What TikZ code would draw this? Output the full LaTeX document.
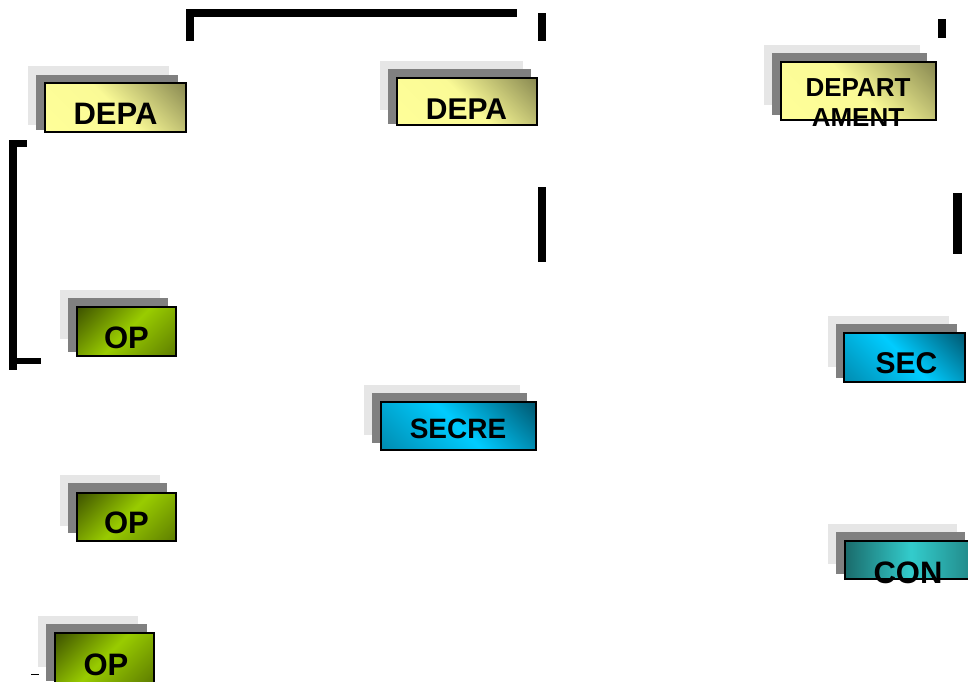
\documentclass[tikz,border=0pt]{standalone}
\usepackage{fontspec}
\setmainfont{Liberation Sans}

\definecolor{layerlight}{HTML}{E6E6E6}
\definecolor{layermid}{HTML}{808080}
\definecolor{ylight}{HTML}{FFFF99}
\definecolor{ydark}{HTML}{85854F}
\definecolor{glight}{HTML}{99CC00}
\definecolor{gdark}{HTML}{3A4D00}
\definecolor{clight}{HTML}{00CCFF}
\definecolor{cdark}{HTML}{00536B}
\definecolor{tlight}{HTML}{33CCCC}
\definecolor{tdark}{HTML}{1A6B6B}

% square diagonal gradient: name, side (pt), colour at start, middle, end
\newcommand\declarediag[5]{%
  \pgfmathsetmacro\dgmid{#2*0.5}%
  \edef\dgdo{\noexpand\pgfdeclareverticalshading{#1}{#2pt}%
    {color(0pt)=(#3); color(\dgmid pt)=(#4); color(#2pt)=(#5)}}%
  \dgdo}

% side = (width + height)/sqrt(2) of each card, plus a small margin
\declarediag{shdepA}{137}{ylight}{ylight!96!ydark}{ydark}
\declarediag{shdepB}{135}{ylight}{ylight!96!ydark}{ydark}
\declarediag{shdepC}{153}{ylight}{ylight!96!ydark}{ydark}
\declarediag{shop}{108}{gdark!65!glight}{glight}{gdark}
\declarediag{shsecA}{146}{cdark!55!clight}{clight}{cdark}
\declarediag{shsecB}{123}{cdark!55!clight}{clight}{cdark}

\tikzset{
  back1/.style={fill=layerlight, draw=none},
  back2/.style={fill=layermid, draw=none},
  card/.style={draw=black, line width=1.8pt, inner sep=0pt},
  % card filled with a declared gradient turned by the given angle
  gradcard/.style 2 args={card, path picture={%
    \pgftext[at={\pgfpointanchor{path picture bounding box}{center}}, rotate=#2]%
      {\pgfuseshading{#1}}}},
  tealcard/.style={card, shading=axis,
    left color=tdark, right color=tdark!75!tlight, middle color=tlight},
  lbl/.style={inner sep=0pt, font=\bfseries\fontsize{#1}{#1}\selectfont},
  lbl/.default=31,
  bar/.style={line width=8pt, line cap=butt, line join=miter}
}

\begin{document}
\begin{tikzpicture}[x=1pt, y=-1pt]
  \useasboundingbox (0,0) rectangle (968,681);
  \clip (0,0) rectangle (968,681);

  % ---- department cards (top row) ----
  \fill[back1] (28,66) rectangle (169,125);
  \fill[back2] (36,75) rectangle (178,130);
  \node[gradcard={shdepA}{-45}, minimum width=141pt, minimum height=49pt] (dep1) at (115.5,107.5) {};
  \node[lbl=31] (dep1t) at (115.5,114) {DEPA};

  \fill[back1] (380,61) rectangle (523,110);
  \fill[back2] (388,69) rectangle (531,124);
  \node[gradcard={shdepB}{-45}, minimum width=140pt, minimum height=47pt] (dep2) at (467,101.5) {};
  \node[lbl=30] (dep2t) at (466.5,109) {DEPA};

  \fill[back1] (764,45) rectangle (920,105);
  \fill[back2] (772,53) rectangle (927,115);
  \node[gradcard={shdepC}{-45}, minimum width=155pt, minimum height=58pt] (dep3) at (858.5,91) {};
  \node[lbl=26] (dep3a) at (858,88) {DEPART};
  \node[lbl=26] (dep3b) at (858,118) {AMENT};

  % ---- operation cards (left column) ----
  \fill[back1] (60,290) rectangle (160,339);
  \fill[back2] (68,298) rectangle (168,352);
  \node[gradcard={shop}{45}, minimum width=99pt, minimum height=49pt] (op1) at (126.5,331.5) {};
  \node[lbl=31] (op1t) at (126.5,338) {OP};

  \fill[back1] (60,475) rectangle (160,526);
  \fill[back2] (68,483) rectangle (167,533);
  \node[gradcard={shop}{45}, minimum width=99pt, minimum height=48pt] (op2) at (126.5,517) {};
  \node[lbl=31] (op2t) at (126.5,522.5) {OP};

  \fill[back1] (38,616) rectangle (138,667);
  \fill[back2] (46,624) rectangle (147,681);
  \node[gradcard={shop}{45}, minimum width=99pt, minimum height=50pt] (op3) at (104.5,658) {};
  \node[lbl=31] (op3t) at (106,665) {OP};

  % ---- secretary cards ----
  \fill[back1] (364,385) rectangle (520,435);
  \fill[back2] (372,393) rectangle (527,443);
  \node[gradcard={shsecA}{-45}, minimum width=155pt, minimum height=48pt] (sec1) at (458.5,426) {};
  \node[lbl=28] (sec1t) at (458,428.5) {SECRE};

  \fill[back1] (828,316) rectangle (949,367);
  \fill[back2] (836,324) rectangle (957,378);
  \node[gradcard={shsecB}{-45}, minimum width=121pt, minimum height=49pt] (sec2) at (904.5,357.5) {};
  \node[lbl=30] (sec2t) at (906.5,363.5) {SEC};

  % ---- control card ----
  \fill[back1] (828,524) rectangle (957,564);
  \fill[back2] (836,532) rectangle (965,574);
  \node[tealcard, minimum width=132pt, minimum height=38pt] (con) at (911,560) {};
  \node[lbl=31] (cont) at (908,572.5) {CON};

  % ---- bracket and bar strokes ----
  \draw[bar] (190,41) -- (190,13) -- (517,13);
  \draw[bar] (542,13) -- (542,41);
  \draw[bar] (542,187) -- (542,262);
  \draw[bar] (942,19) -- (942,38);
  \draw[bar, line width=8.5pt] (957.5,193) -- (957.5,254);
  \draw[bar] (13,140) -- (13,370);
  \draw[bar, line width=7pt] (13,143.5) -- (27,143.5);
  \draw[bar, line width=6pt] (13,361) -- (41,361);
  \draw[line width=1.2pt] (31,674.5) -- (39,674.5);
\end{tikzpicture}
\end{document}
